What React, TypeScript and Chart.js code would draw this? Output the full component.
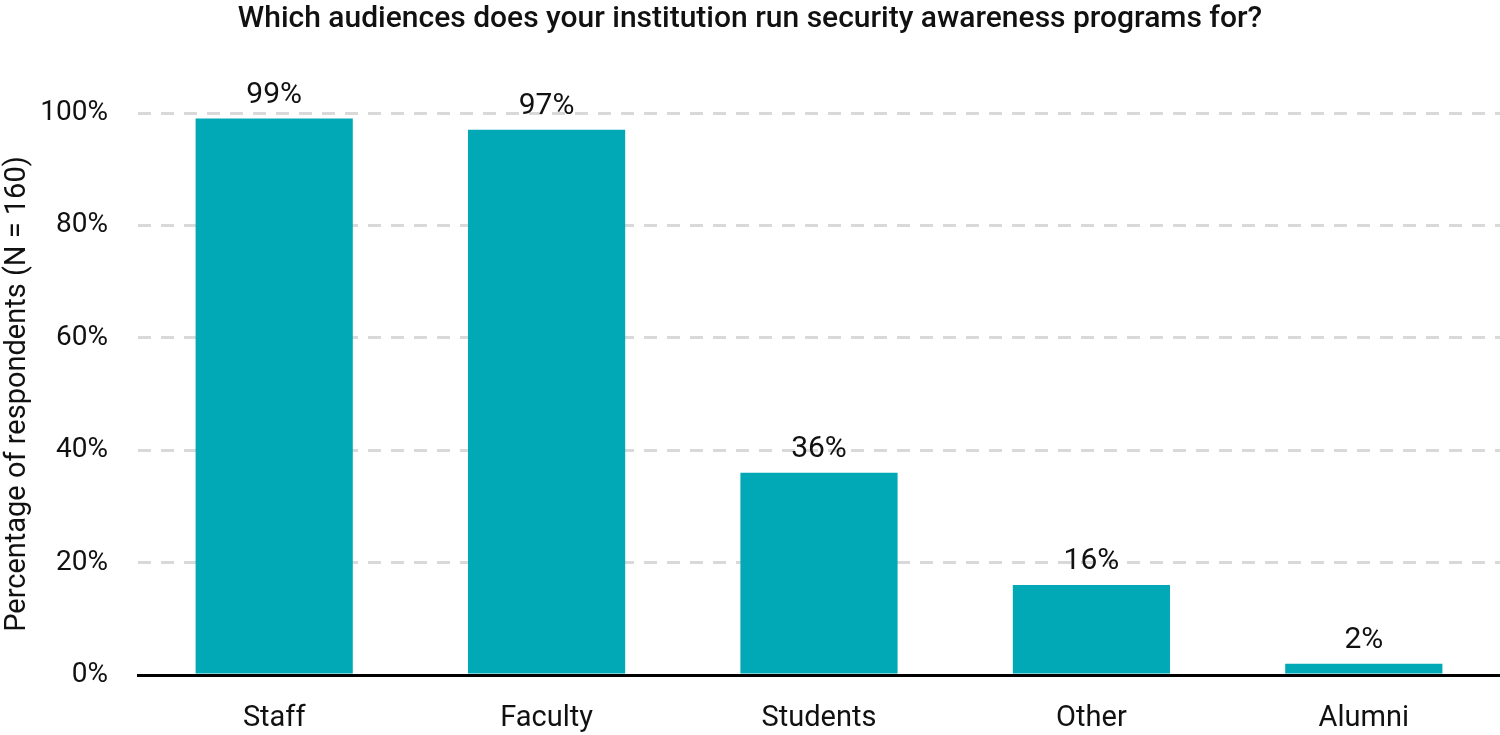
import React, { useEffect, useRef } from "react";
import { Chart, registerables } from "chart.js";

Chart.register(...registerables);

const TITLE = "Which audiences does your institution run security awareness programs for?";
const Y_TITLE = "Percentage of respondents (N = 160)";
const categories = ["Staff", "Faculty", "Students", "Other", "Alumni"];
const values = [99, 97, 36, 16, 2];
const yTicks = [0, 20, 40, 60, 80, 100];

const FONT = "Roboto";
const BAR = "#00a9b5";

const labelPlugin = {
  id: "barLabels",
  afterDatasetsDraw(chart: any) {
    const ctx = chart.ctx;
    const meta = chart.getDatasetMeta(0);
    ctx.save();
    ctx.font = `400 30px ${FONT}`;
    ctx.fillStyle = "#111";
    ctx.textAlign = "center";
    ctx.textBaseline = "alphabetic";
    meta.data.forEach((el: any, i: number) => {
      ctx.fillText(values[i] + "%", el.x, el.y - 16);
    });
    ctx.restore();
  },
};

export default function App() {
  const ref = useRef<HTMLCanvasElement>(null);
  useEffect(() => {
    document.body.style.margin = "0";
    const chart = new Chart(ref.current!, {
      type: "bar",
      data: {
        labels: categories,
        datasets: [
          {
            data: values,
            backgroundColor: BAR,
            barPercentage: 0.577,
            categoryPercentage: 1,
          },
        ],
      },
      options: {
        animation: false,
        responsive: false,
        maintainAspectRatio: false,
        layout: { padding: { left: 0, right: 0, top: 0, bottom: 0 } },
        plugins: {
          legend: { display: false },
          tooltip: { enabled: false },
          title: {
            display: true,
            text: TITLE,
            color: "#111",
            font: { family: FONT, size: 30, weight: "500" },
            padding: { top: 1, bottom: 76 },
          },
        },
        scales: {
          x: {
            grid: { display: false, drawTicks: false },
            border: { display: true, color: "#000", width: 3 },
            ticks: {
              color: "#111",
              font: { family: FONT, size: 29 },
              padding: 26,
            },
            afterFit: (s: any) => {
              s.height = 60;
            },
          },
          y: {
            min: 0,
            max: 100,
            afterBuildTicks: (s: any) => {
              s.ticks = yTicks.map((v) => ({ value: v }));
            },
            grid: {
              drawTicks: false,
              lineWidth: 3,
              color: (c: any) => (c.tick && c.tick.value === 0 ? "rgba(0,0,0,0)" : "#d9d9d9"),
            },
            border: { display: false, dash: [13, 10] },
            ticks: {
              color: "#111",
              font: { family: FONT, size: 28 },
              padding: 30,
              callback: (v: any) => v + "%",
            },
            title: {
              display: true,
              text: Y_TITLE,
              color: "#111",
              font: { family: FONT, size: 29 },
              padding: { top: 0, bottom: 0 },
            },
            afterFit: (s: any) => {
              s.width = 138;
            },
          },
        },
      },
      plugins: [labelPlugin],
    });
    return () => chart.destroy();
  }, []);
  return <canvas ref={ref} width={1500} height={735} style={{ display: "block" }} />;
}
